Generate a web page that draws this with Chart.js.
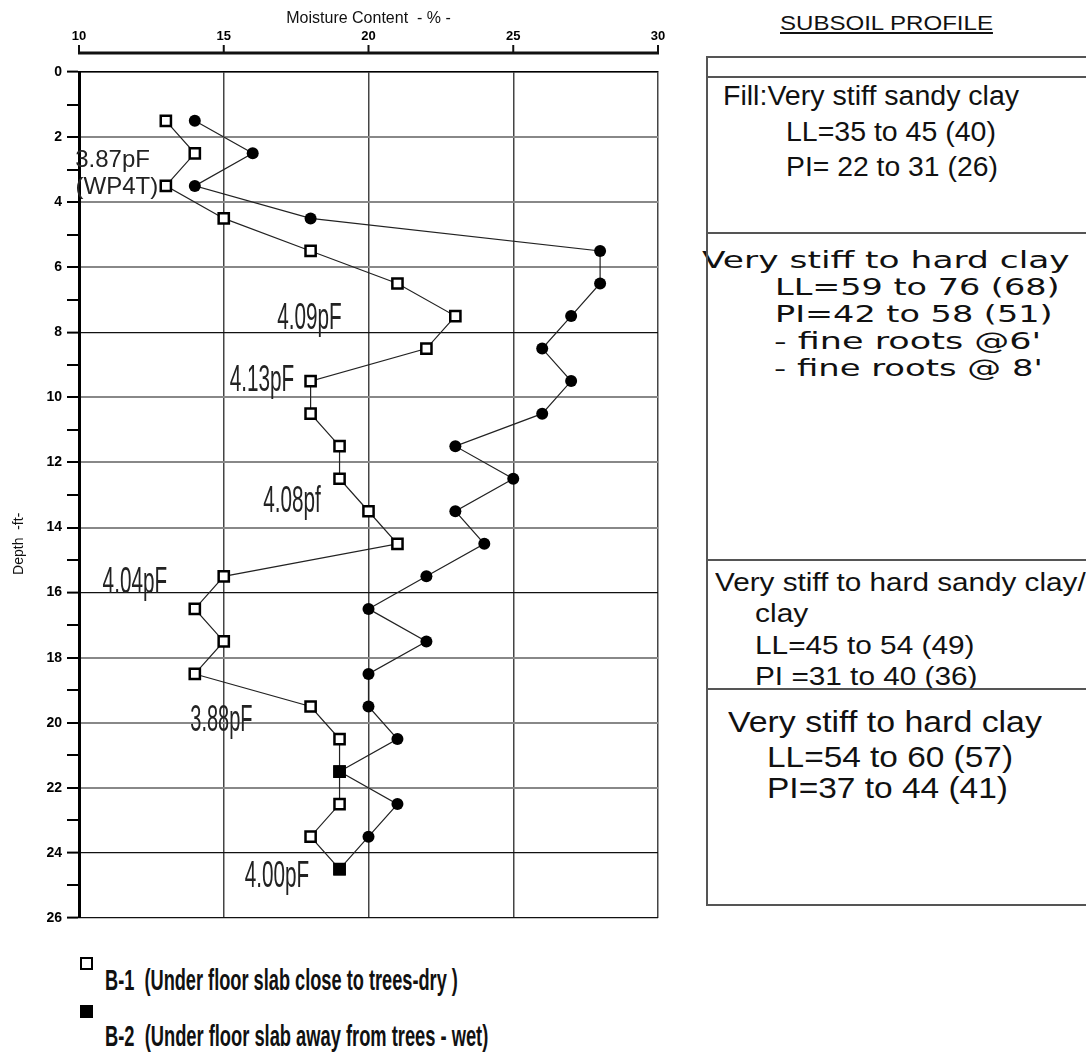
<!DOCTYPE html>
<html>
<head>
<meta charset="utf-8">
<script src="https://cdn.jsdelivr.net/npm/chart.js@4.4.1/dist/chart.umd.min.js"></script>
<style>
  body { margin: 0; background: #fff; width: 1086px; height: 1053px; position: relative; overflow: hidden; }
  #grafico { position: absolute; left: 0; top: 0; }
  .txt { position: absolute; white-space: pre; color: #111; transform-origin: 0 50%; }
  .linha { position: absolute; background: #555; }
  .quad { position: absolute; width: 9px; height: 9px; border: 2px solid #000; }
</style>
</head>
<body>
<canvas id="grafico" width="700" height="940"></canvas>
<script>
// dados
const profundidades = [1.5, 2.5, 3.5, 4.5, 5.5, 6.5, 7.5, 8.5, 9.5, 10.5, 11.5, 12.5,
                       13.5, 14.5, 15.5, 16.5, 17.5, 18.5, 19.5, 20.5, 21.5, 22.5, 23.5, 24.5];
const umidadeB1 = [13, 14, 13, 15, 18, 21, 23, 22, 18, 18, 19, 19,
                   20, 21, 15, 14, 15, 14, 18, 19, 19, 19, 18, 19];
const umidadeB2 = [14, 16, 14, 18, 28, 28, 27, 26, 27, 26, 23, 25,
                   23, 24, 22, 20, 22, 20, 20, 21, 19, 21, 20, 19];
// pontos onde B-2 coincide com B-1 (marcador quadrado cheio)
const pontosComuns = [21.5, 24.5];

const rotulosX = [10, 15, 20, 25, 30];
const rotulosPF = [
    { texto: "3.87pF", x: 11.16, y: 2.66, tam: 24, aperto: 1 },
    { texto: "(WP4T)", x: 11.31, y: 3.47, tam: 24, aperto: 1 },
    { texto: "4.09pF", x: 17.96, y: 7.48, tam: 37, aperto: 0.56 },
    { texto: "4.13pF", x: 16.32, y: 9.40, tam: 37, aperto: 0.56 },
    { texto: "4.08pf", x: 17.36, y: 13.12, tam: 37, aperto: 0.56 },
    { texto: "4.04pF", x: 11.93, y: 15.60, tam: 37, aperto: 0.56 },
    { texto: "3.88pF", x: 14.92, y: 19.85, tam: 37, aperto: 0.54 },
    { texto: "4.00pF", x: 16.84, y: 24.65, tam: 37, aperto: 0.56 }
];

const serieB1 = profundidades.map((d, i) => ({ x: umidadeB1[i], y: d }));
const serieB2 = profundidades.map((d, i) => ({ x: umidadeB2[i], y: d }));
const estiloB2 = profundidades.map(d => pontosComuns.includes(d) ? "rect" : "circle");
const raioB2 = profundidades.map(d => pontosComuns.includes(d) ? 8.8 : 6);

//eixo superior afastado da area do grafico + titulo do eixo y
const eixoTopo = {
    id: "eixoTopo",
    afterDraw(chart) {
        const ctx = chart.ctx;
        const x = chart.scales.x;
        const y = chart.scales.y;
        const yLinha = chart.chartArea.top - 19;
        ctx.save();
        ctx.strokeStyle = "#111";
        ctx.lineWidth = 3;
        ctx.beginPath();
        ctx.moveTo(x.getPixelForValue(10) - 1, yLinha);
        ctx.lineTo(x.getPixelForValue(30) + 1, yLinha);
        ctx.stroke();
        ctx.lineWidth = 2;
        rotulosX.forEach(v => {
            const px = x.getPixelForValue(v);
            ctx.beginPath();
            ctx.moveTo(px, yLinha - 8);
            ctx.lineTo(px, yLinha);
            ctx.stroke();
        });
        // titulo "Depth" um pouco abaixo do centro, como no original
        ctx.translate(19, y.getPixelForValue(14.5));
        ctx.rotate(-Math.PI / 2);
        ctx.fillStyle = "#111";
        ctx.textAlign = "center";
        ctx.textBaseline = "middle";
        ctx.font = '14px "Liberation Sans", Arial, sans-serif';
        ctx.fillText("Depth  -ft-", 0, 0);
        ctx.restore();
    }
};

//textos pF dentro do grafico
const textosPF = {
    id: "textosPF",
    afterDatasetsDraw(chart) {
        const ctx = chart.ctx;
        const sx = chart.scales.x;
        const sy = chart.scales.y;
        ctx.save();
        ctx.fillStyle = "#222";
        ctx.textAlign = "center";
        ctx.textBaseline = "alphabetic";
        rotulosPF.forEach(r => {
            ctx.save();
            ctx.font = r.tam + 'px "Liberation Sans", Arial, sans-serif';
            ctx.translate(sx.getPixelForValue(r.x), sy.getPixelForValue(r.y) + r.tam * 0.358);
            ctx.scale(r.aperto, 1);
            ctx.fillText(r.texto, 0, 0);
            ctx.restore();
        });
        ctx.restore();
    }
};

const ctxGrafico = document.getElementById("grafico").getContext("2d");
const chart = new Chart(ctxGrafico, {
    type: "scatter",
    data: {
        datasets: [
            {
                label: "B-2",
                data: serieB2,
                showLine: true,
                borderColor: "#222",
                borderWidth: 1.2,
                pointStyle: estiloB2,
                pointRadius: raioB2,
                pointBackgroundColor: "#000",
                pointBorderColor: "#000",
                pointBorderWidth: 0
            },
            {
                label: "B-1",
                data: serieB1,
                showLine: true,
                borderColor: "#222",
                borderWidth: 1.2,
                pointStyle: "rect",
                pointRadius: 7.2,
                pointBackgroundColor: "#fff",
                pointBorderColor: "#000",
                pointBorderWidth: 2.5
            }
        ]
    },
    options: {
        responsive: false,
        animation: false,
        layout: { padding: { left: 0, right: 42, top: 0, bottom: 22 } },
        plugins: {
            legend: { display: false },
            tooltip: { enabled: false }
        },
        scales: {
            x: {
                type: "linear",
                position: "top",
                min: 10,
                max: 30,
                afterFit: s => { s.height = 72; },
                ticks: {
                    stepSize: 5,
                    color: "#000",
                    padding: 4,
                    font: { family: '"Liberation Sans Narrow", "Liberation Sans", sans-serif', size: 13, weight: "bold" }
                },
                grid: {
                    color: "#444",
                    lineWidth: 1.5,
                    drawTicks: true,
                    tickLength: 24,
                    tickColor: "rgba(0,0,0,0)"
                },
                border: { display: true, color: "#000", width: 1.5 },
                title: {
                    display: true,
                    text: "Moisture Content  - % -",
                    color: "#111",
                    padding: { top: 9, bottom: 0 },
                    font: { family: '"Liberation Sans Narrow", "Liberation Sans", sans-serif', size: 16 }
                }
            },
            y: {
                type: "linear",
                reverse: true,
                min: 0,
                max: 26,
                afterFit: s => { s.width = 79; },
                ticks: {
                    stepSize: 1,
                    autoSkip: false,
                    color: "#000",
                    padding: 5,
                    callback: v => (v % 2 === 0 ? v : ""),
                    font: { family: '"Liberation Sans Narrow", "Liberation Sans", sans-serif', size: 14, weight: "bold" }
                },
                grid: {
                    color: c => {
                        const v = c.tick ? c.tick.value : 0;
                        if (v % 2 !== 0) return "rgba(0,0,0,0)";
                        return (v % 8 === 0 || v === 26) ? "#111" : "#888";
                    },
                    lineWidth: c => {
                        const v = c.tick ? c.tick.value : 0;
                        return (v % 8 === 0 || v === 26) ? 1.2 : 2;
                    },
                    drawTicks: true,
                    tickLength: 12,
                    tickColor: "#000",
                    tickWidth: 2
                },
                border: { display: true, color: "#000", width: 3 },
                title: { display: false }
            }
        }
    },
    plugins: [eixoTopo, textosPF]
});

// perfil do subsolo e legenda (texto ajustado a largura)
const textosPerfil = [
    { t: "SUBSOIL PROFILE", x: 780, y: 22, w: 213, tam: 21, f: "Liberation Sans", sub: true },
    { t: "Fill:Very stiff sandy clay", x: 723, y: 96, w: 296, tam: 27, f: "Liberation Sans" },
    { t: "LL=35 to 45 (40)", x: 786, y: 132, w: 210, tam: 27, f: "Liberation Sans" },
    { t: "PI= 22 to 31 (26)", x: 786, y: 167, w: 212, tam: 27, f: "Liberation Sans" },
    { t: "Very stiff to hard clay", x: 702, y: 260, w: 368, tam: 23, f: "DejaVu Sans" },
    { t: "LL=59 to 76 (68)", x: 775, y: 287, w: 285, tam: 23, f: "DejaVu Sans" },
    { t: "PI=42 to 58 (51)", x: 775, y: 314, w: 278, tam: 23, f: "DejaVu Sans" },
    { t: "- fine roots @6'", x: 774, y: 341, w: 268, tam: 23, f: "DejaVu Sans" },
    { t: "- fine roots @ 8'", x: 774, y: 368, w: 269, tam: 23, f: "DejaVu Sans" },
    { t: "Very stiff to hard sandy clay/", x: 715, y: 582, w: 371, tam: 26, f: "Liberation Sans" },
    { t: "clay", x: 755, y: 613, w: 53, tam: 26, f: "Liberation Sans" },
    { t: "LL=45 to 54 (49)", x: 755, y: 645, w: 220, tam: 26, f: "Liberation Sans" },
    { t: "PI =31 to 40 (36)", x: 755, y: 676, w: 222, tam: 26, f: "Liberation Sans" },
    { t: "Very stiff to hard clay", x: 728, y: 722, w: 314, tam: 30, f: "Liberation Sans" },
    { t: "LL=54 to 60 (57)", x: 767, y: 757, w: 246, tam: 30, f: "Liberation Sans" },
    { t: "PI=37 to 44 (41)", x: 767, y: 788, w: 241, tam: 30, f: "Liberation Sans" },
    { t: "B-1  (Under floor slab close to trees-dry )", x: 105, y: 980, w: 353, tam: 30, f: "Liberation Sans Narrow", bold: true },
    { t: "B-2  (Under floor slab away from trees - wet)", x: 105, y: 1036, w: 383, tam: 30, f: "Liberation Sans Narrow", bold: true }
];

textosPerfil.forEach(l => {
    const d = document.createElement("div");
    d.className = "txt";
    d.textContent = l.t;
    d.style.left = l.x + "px";
    d.style.top = (l.y - l.tam * 0.49) + "px";
    d.style.fontFamily = '"' + l.f + '", sans-serif';
    d.style.fontSize = l.tam + "px";
    d.style.lineHeight = l.tam + "px";
    if (l.bold) d.style.fontWeight = "bold";
    if (l.sub) d.style.textDecoration = "underline";
    document.body.appendChild(d);
    d.style.transform = "scaleX(" + (l.w / d.offsetWidth) + ")";
});

// linhas da tabela do perfil
const linhasTabela = [57, 77, 233, 560, 689, 905];
linhasTabela.forEach(y => {
    const l = document.createElement("div");
    l.className = "linha";
    l.style.left = "707px";
    l.style.top = (y - 1) + "px";
    l.style.width = "379px";
    l.style.height = "2px";
    document.body.appendChild(l);
});
const vert = document.createElement("div");
vert.className = "linha";
vert.style.left = "706px";
vert.style.top = "56px";
vert.style.width = "2px";
vert.style.height = "850px";
document.body.appendChild(vert);

// marcadores da legenda
const q1 = document.createElement("div");
q1.className = "quad";
q1.style.left = "80px"; q1.style.top = "957px"; q1.style.background = "#fff";
document.body.appendChild(q1);
const q2 = document.createElement("div");
q2.className = "quad";
q2.style.left = "80px"; q2.style.top = "1005px"; q2.style.background = "#000";
document.body.appendChild(q2);
</script>
</body>
</html>
